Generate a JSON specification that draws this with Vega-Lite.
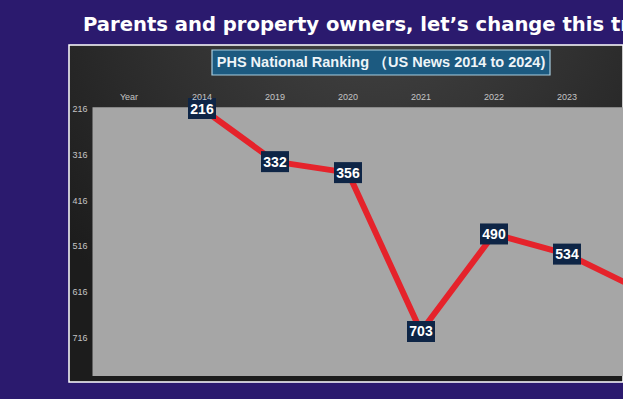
{
  "$schema": "https://vega.github.io/schema/vega-lite/v6.json",
  "width": 554,
  "height": 337,
  "autosize": {"type": "none"},
  "padding": {"left": 69, "top": 45, "right": 0, "bottom": 17},
  "background": "#2b1a6e",
  "title": {
    "text": "Parents and property owners, let’s change this trend",
    "anchor": "start",
    "frame": "group",
    "dx": 14,
    "dy": 18,
    "offset": 12,
    "baseline": "alphabetic",
    "font": "DejaVu Sans",
    "fontWeight": "bold",
    "fontSize": 19.6,
    "color": "#ffffff"
  },
  "data": {
    "values": [
      {"year": "2014", "rank": 216},
      {"year": "2019", "rank": 332},
      {"year": "2020", "rank": 356},
      {"year": "2021", "rank": 703},
      {"year": "2022", "rank": 490},
      {"year": "2023", "rank": 534},
      {"year": "2024", "rank": 612}
    ]
  },
  "layer": [
    {
      "data": {"values": [{}]},
      "mark": {"type": "rect", "color": "#a6a6a6"},
      "encoding": {
        "x": {"datum": "Year", "type": "ordinal", "bandPosition": 0,
          "scale": {"type": "band", "domain": ["Year", "2014", "2019", "2020", "2021", "2022", "2023", "2024"], "range": [23.5, 607.5], "paddingInner": 0, "paddingOuter": 0},
          "axis": {"orient": "top", "title": null, "domain": false, "ticks": false, "tickSize": 0, "labelPadding": -54.5, "labelBaseline": "alphabetic", "labelAngle": 0, "labelColor": "#c4c4c4", "labelFontSize": 9, "labelFont": "Liberation Sans", "grid": false}},
        "x2": {"datum": "2024", "bandPosition": 1},
        "y": {"datum": 213, "type": "quantitative",
          "scale": {"domain": [77.3, 813.3], "reverse": true, "nice": false, "zero": false},
          "axis": {"orient": "left", "title": null, "values": [216, 316, 416, 516, 616, 716], "domain": false, "ticks": false, "tickSize": 0, "labelPadding": -3, "labelAlign": "left", "labelColor": "#c4c4c4", "labelFontSize": 9, "labelFont": "Liberation Sans", "grid": false}},
        "y2": {"datum": 800}
      }
    },
    {
      "mark": {"type": "line", "color": "#e5232b", "strokeWidth": 6, "strokeCap": "round", "strokeJoin": "round"},
      "encoding": {
        "x": {"field": "year", "type": "ordinal",
          "scale": {"type": "band", "domain": ["Year", "2014", "2019", "2020", "2021", "2022", "2023", "2024"], "range": [23.5, 607.5], "paddingInner": 0, "paddingOuter": 0}},
        "y": {"field": "rank", "type": "quantitative",
          "scale": {"domain": [77.3, 813.3], "reverse": true, "nice": false, "zero": false}}
      }
    },
    {
      "mark": {"type": "point", "shape": "M-1,-0.75L1,-0.75L1,0.75L-1,0.75Z", "filled": true, "size": 784, "color": "#0e2546", "opacity": 1},
      "encoding": {
        "x": {"field": "year", "type": "ordinal",
          "scale": {"type": "band", "domain": ["Year", "2014", "2019", "2020", "2021", "2022", "2023", "2024"], "range": [23.5, 607.5], "paddingInner": 0, "paddingOuter": 0}},
        "y": {"field": "rank", "type": "quantitative",
          "scale": {"domain": [77.3, 813.3], "reverse": true, "nice": false, "zero": false}}
      }
    },
    {
      "mark": {"type": "text", "color": "#ffffff", "font": "Liberation Sans", "fontWeight": "bold", "fontSize": 14, "baseline": "middle", "dy": 1},
      "encoding": {
        "x": {"field": "year", "type": "ordinal",
          "scale": {"type": "band", "domain": ["Year", "2014", "2019", "2020", "2021", "2022", "2023", "2024"], "range": [23.5, 607.5], "paddingInner": 0, "paddingOuter": 0}},
        "y": {"field": "rank", "type": "quantitative",
          "scale": {"domain": [77.3, 813.3], "reverse": true, "nice": false, "zero": false}},
        "text": {"field": "rank", "type": "quantitative"}
      }
    },
    {
      "data": {"values": [{"label": "PHS National Ranking （US News 2014 to 2024)"}]},
      "mark": {"type": "point", "shape": "M-1,-0.074L1,-0.074L1,0.074L-1,0.074Z", "filled": true, "size": 114244, "fill": "#1c5a80", "stroke": "#a8cde0", "strokeWidth": 1.2, "opacity": 1},
      "encoding": {
        "x": {"datum": "2020", "type": "ordinal", "bandPosition": 0.952,
          "scale": {"type": "band", "domain": ["Year", "2014", "2019", "2020", "2021", "2022", "2023", "2024"], "range": [23.5, 607.5], "paddingInner": 0, "paddingOuter": 0}},
        "y": {"datum": 115.5, "type": "quantitative",
          "scale": {"domain": [77.3, 813.3], "reverse": true, "nice": false, "zero": false}}
      }
    },
    {
      "data": {"values": [{"label": "PHS National Ranking （US News 2014 to 2024)"}]},
      "mark": {"type": "text", "color": "#eef4f8", "font": "Liberation Sans", "fontWeight": "bold", "fontSize": 14.5, "baseline": "middle", "dy": 1},
      "encoding": {
        "x": {"datum": "2020", "type": "ordinal", "bandPosition": 0.952,
          "scale": {"type": "band", "domain": ["Year", "2014", "2019", "2020", "2021", "2022", "2023", "2024"], "range": [23.5, 607.5], "paddingInner": 0, "paddingOuter": 0}},
        "y": {"datum": 115.5, "type": "quantitative",
          "scale": {"domain": [77.3, 813.3], "reverse": true, "nice": false, "zero": false}},
        "text": {"field": "label", "type": "nominal"}
      }
    }
  ],
  "config": {
    "view": {
      "fill": {"gradient": "radial", "x1": 0.55, "y1": 0.05, "r1": 0, "x2": 0.55, "y2": 0.05, "r2": 0.75,
        "stops": [{"offset": 0, "color": "#474747"}, {"offset": 1, "color": "#1c1c1c"}]},
      "stroke": "#ffffff",
      "strokeWidth": 1.5
    }
  }
}
